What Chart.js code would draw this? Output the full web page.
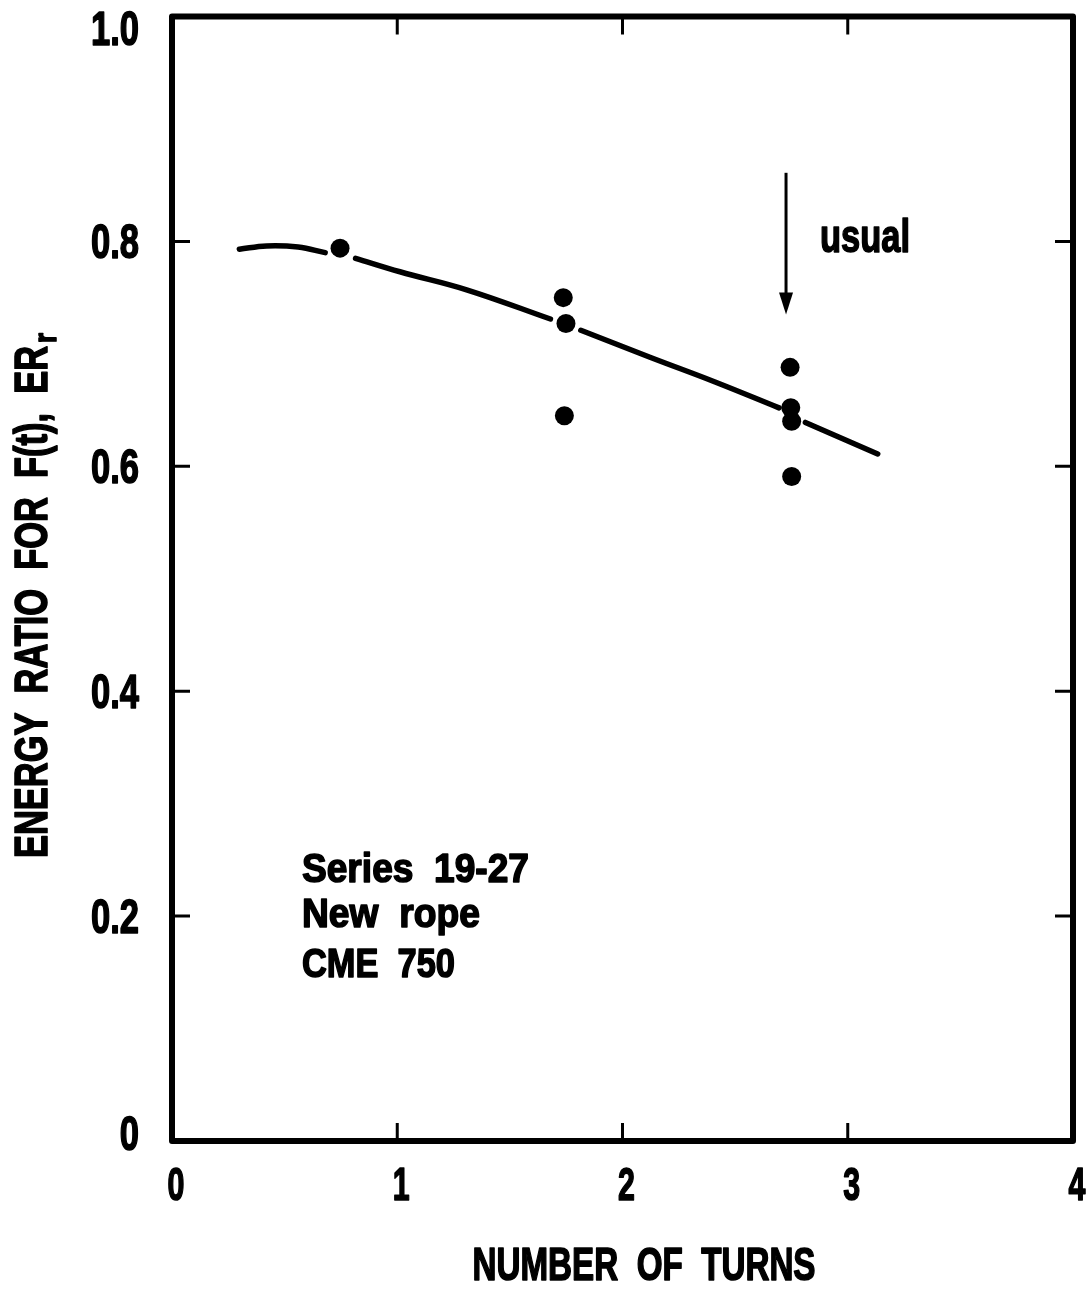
<!DOCTYPE html>
<html>
<head>
<meta charset="utf-8">
<title>Energy ratio vs number of turns</title>
<script src="https://cdn.jsdelivr.net/npm/chart.js@4.4.1/dist/chart.umd.min.js"></script>
<style>
  html, body { margin: 0; padding: 0; background: #fff; }
  #wrap { width: 1088px; height: 1289px; }
</style>
</head>
<body>
<div id="wrap"><canvas id="chart" width="1088" height="1289"></canvas></div>
<script>
// Axis tick labels
const xTickLabels = ['0', '1', '2', '3', '4'];
const yTickLabels = ['0', '0.2', '0.4', '0.6', '0.8', '1.0'];

// Measured points (number of turns, ER_r)
const turns = [0.746, 1.737, 1.749, 1.742, 2.744, 2.747, 2.751, 2.751];
const energyRatio = [0.794, 0.750, 0.727, 0.645, 0.688, 0.652, 0.640, 0.591];

// Hand-drawn fit curve, null marks the breaks around the dots
const fitTurns = [0.299, 0.420, 0.560, 0.680, 0.746, 0.815, 1.012, 1.308, 1.680, 1.749, 1.815, 2.122, 2.411, 2.695, 2.747, 2.812, 3.133];
const fitRatio = [0.793, 0.796, 0.795, 0.790, null, 0.785, 0.773, 0.757, 0.731, null, 0.721, 0.697, 0.675, 0.652, null, 0.639, 0.611];

// "usual" arrow (turns, from ER, to ER)
const arrowTurns = 2.726;
const arrowFrom = 0.861;
const arrowTo = 0.735;
const arrowLabel = 'usual';

const noteLines = ['Series  19-27', 'New  rope', 'CME  750'];

const FONT = '"Liberation Sans", Arial, sans-serif';

function toXY(xs, ys) {
    return xs.map((x, i) => ({ x: x, y: ys[i] }));
}

// Draw bold text squeezed horizontally to look like a condensed face
function drawText(ctx, text, x, y, size, opts) {
    opts = opts || {};
    ctx.save();
    ctx.font = 'bold ' + size + 'px ' + FONT;
    const w = ctx.measureText(text).width;
    const sx = opts.width ? opts.width / w : (opts.squeeze || 0.7);
    ctx.translate(x, y);
    ctx.scale(sx, 1);
    ctx.textAlign = opts.align || 'left';
    ctx.textBaseline = 'alphabetic';
    ctx.fillStyle = '#000';
    ctx.strokeStyle = '#000';
    ctx.lineWidth = 1.6;
    ctx.lineJoin = 'round';
    ctx.fillText(text, 0, 0);
    ctx.strokeText(text, 0, 0);
    ctx.restore();
    return w * sx;
}

const framePlugin = {
    id: 'frame',
    afterDraw(chart) {
        const ctx = chart.ctx;
        const xs = chart.scales.x;
        const ys = chart.scales.y;
        const a = chart.chartArea;

        ctx.save();
        ctx.strokeStyle = '#000';
        ctx.lineJoin = 'round';

        // frame
        ctx.lineWidth = 6;
        ctx.strokeRect(a.left, a.top, a.right - a.left, a.bottom - a.top);

        // inward ticks on all sides
        ctx.lineWidth = 3;
        const tl = 18;
        xTickLabels.forEach(lbl => {
            const v = parseFloat(lbl);
            if (v <= xs.min || v >= xs.max) return;
            const px = xs.getPixelForValue(v);
            ctx.beginPath();
            ctx.moveTo(px, a.bottom); ctx.lineTo(px, a.bottom - tl);
            ctx.moveTo(px, a.top); ctx.lineTo(px, a.top + tl);
            ctx.stroke();
        });
        yTickLabels.forEach(lbl => {
            const v = parseFloat(lbl);
            if (v <= ys.min || v >= ys.max) return;
            const py = ys.getPixelForValue(v);
            ctx.beginPath();
            ctx.moveTo(a.left, py); ctx.lineTo(a.left + tl, py);
            ctx.moveTo(a.right, py); ctx.lineTo(a.right - tl, py);
            ctx.stroke();
        });

        // tick labels
        xTickLabels.forEach(lbl => {
            const px = xs.getPixelForValue(parseFloat(lbl));
            drawText(ctx, lbl, px + 4, 1200, 46, { align: 'center', squeeze: 0.66 });
        });
        yTickLabels.forEach(lbl => {
            let py = ys.getPixelForValue(parseFloat(lbl));
            py = Math.min(Math.max(py, 28), 1133);
            drawText(ctx, lbl, 139, py + 17, 48, { align: 'right', squeeze: 0.72 });
        });

        // axis titles
        drawText(ctx, 'NUMBER  OF  TURNS', 644, 1280, 46, { align: 'center', width: 343 });
        ctx.save();
        ctx.translate(47, 858);
        ctx.rotate(-Math.PI / 2);
        const tw = drawText(ctx, 'ENERGY  RATIO  FOR  F(t),  ER', 0, 0, 47, { width: 512 });
        drawText(ctx, 'r', tw + 3, 9, 32, { squeeze: 0.8 });
        ctx.restore();

        // arrow
        const ax = xs.getPixelForValue(arrowTurns);
        const ay0 = ys.getPixelForValue(arrowFrom);
        const ay1 = ys.getPixelForValue(arrowTo);
        ctx.lineWidth = 3;
        ctx.beginPath();
        ctx.moveTo(ax, ay0);
        ctx.lineTo(ax, ay1 - 18);
        ctx.stroke();
        ctx.fillStyle = '#000';
        ctx.beginPath();
        ctx.moveTo(ax - 7, ay1 - 22);
        ctx.lineTo(ax + 7, ay1 - 22);
        ctx.lineTo(ax, ay1);
        ctx.closePath();
        ctx.fill();
        drawText(ctx, arrowLabel, xs.getPixelForValue(2.877), ys.getPixelForValue(0.7906), 46, { width: 90 });

        // note block
        const nx = xs.getPixelForValue(0.577);
        const noteY = [0.2303, 0.1903, 0.1458];
        const noteW = [227, 178, 153];
        noteLines.forEach((t, i) => {
            drawText(ctx, t, nx, ys.getPixelForValue(noteY[i]), 41, { width: noteW[i] });
        });

        ctx.restore();
    }
};

const chart = new Chart(document.getElementById('chart'), {
    type: 'scatter',
    data: {
        datasets: [
            {
                label: 'fit',
                data: toXY(fitTurns, fitRatio),
                showLine: true,
                spanGaps: false,
                borderColor: '#000',
                borderWidth: 5.5,
                borderCapStyle: 'round',
                tension: 0.4,
                pointRadius: 0,
                order: 2
            },
            {
                label: 'measured',
                data: toXY(turns, energyRatio),
                showLine: false,
                backgroundColor: '#000',
                borderColor: '#000',
                borderWidth: 0,
                pointRadius: 9.5,
                order: 1
            }
        ]
    },
    options: {
        responsive: false,
        animation: false,
        layout: { padding: { left: 172, top: 16.5, right: 15, bottom: 148 } },
        scales: {
            x: { type: 'linear', display: false, min: 0, max: 4, ticks: { stepSize: 1 } },
            y: { type: 'linear', display: false, min: 0, max: 1, ticks: { stepSize: 0.2 } }
        },
        plugins: {
            legend: { display: false },
            tooltip: { enabled: false }
        }
    },
    plugins: [framePlugin]
});
</script>
</body>
</html>
